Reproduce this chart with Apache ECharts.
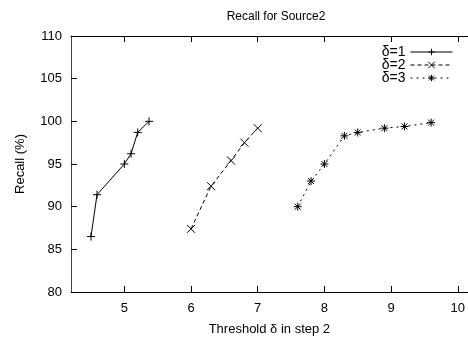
<!DOCTYPE html>
<html><head><meta charset="utf-8">
<script src="https://cdn.jsdelivr.net/npm/echarts@6/dist/echarts.min.js"></script>
<style>html,body{margin:0;padding:0;background:#fff}#c{width:468px;height:341px}</style>
</head><body><div id="c"></div>
<script>
var seriesNames = ['δ=1', 'δ=2', 'δ=3'];
var d1x = [4.5, 4.59, 5.0, 5.1, 5.2, 5.37];
var d1y = [86.5, 91.4, 95.0, 96.2, 98.7, 100.0];
var d2x = [6.0, 6.3, 6.6, 6.8, 7.0];
var d2y = [87.4, 92.4, 95.4, 97.5, 99.2];
var d3x = [7.6, 7.8, 8.0, 8.3, 8.5, 8.9, 9.2, 9.6];
var d3y = [90.0, 93.0, 95.0, 98.3, 98.7, 99.2, 99.4, 99.85];
var xTicks = [5, 6, 7, 8, 9, 10];

function pairs(xs, ys){ return xs.map(function(x,i){ return [x, ys[i]]; }); }

var F = 'Liberation Sans, Arial, Helvetica, sans-serif';
var symPlus = 'path://M0,4L8,4M4,0L4,8';
var symX = 'path://M0,0L8,8M8,0L0,8';
var symStar = 'path://M0,4L8,4M4,0L4,8M1,1L7,7M7,1L1,7';

var chart = echarts.init(document.getElementById('c'), null, {renderer:'canvas'});
function mk(name, data, sym, dash){
  return {
    name: name, type: 'line', data: data, symbol: sym, symbolSize: 8,
    showAllSymbol: true, animation: false,
    lineStyle: {color:'#000', width:1, type: dash},
    itemStyle: {color:'#000', borderColor:'#000', borderWidth:1}
  };
}
chart.setOption({
  animation: false,
  backgroundColor: '#fff',
  title: {text:'Recall for Source2', left: 271, textAlign:'center', top: 6,
    textStyle:{fontFamily:F, fontSize:12, fontWeight:'normal', color:'#000'}},
  legend: {
    orient:'vertical', right: 10, top: 40, align:'right',
    itemWidth: 42, itemHeight: 8, itemGap: -1,
    textStyle:{fontFamily:F, fontSize:14, color:'#000'},
    lineStyle:{width:1},
    itemStyle:{borderWidth:1},
    data: seriesNames
  },
  grid: {left:71, top:36, bottom:47, right:-4},
  xAxis: [{
    type:'value', min:4.2, max:10.15, position:'bottom',
    name:'Threshold δ in step 2', nameLocation:'middle', nameGap:31,
    nameTextStyle:{fontFamily:F, fontSize:13, color:'#000'},
    axisLine:{show:true, lineStyle:{color:'#000', width:1}},
    axisTick:{show:true, inside:true, length:6, customValues: xTicks, lineStyle:{color:'#000'}},
    axisLabel:{fontFamily:F, fontSize:13, color:'#000', margin:10, customValues: xTicks},
    splitLine:{show:false}
  },{
    type:'value', min:4.2, max:10.15, position:'top',
    axisLine:{show:true, lineStyle:{color:'#000', width:1}},
    axisTick:{show:true, inside:true, length:6, customValues: xTicks, lineStyle:{color:'#000'}},
    axisLabel:{show:false}, splitLine:{show:false}
  }],
  yAxis: [{
    type:'value', min:80, max:110, interval:5,
    name:'Recall (%)', nameLocation:'middle', nameGap:44, nameRotate:90,
    nameTextStyle:{fontFamily:F, fontSize:13, color:'#000'},
    axisLine:{show:true, lineStyle:{color:'#444', width:1}},
    axisTick:{show:true, inside:true, length:6, lineStyle:{color:'#000'}},
    axisLabel:{fontFamily:F, fontSize:13, color:'#000', margin:9},
    splitLine:{show:false}
  }],
  series: [
    mk(seriesNames[0], pairs(d1x, d1y), symPlus, 'solid'),
    mk(seriesNames[1], pairs(d2x, d2y), symX, [4,3]),
    mk(seriesNames[2], pairs(d3x, d3y), symStar, [2,4])
  ]
});
</script></body></html>
